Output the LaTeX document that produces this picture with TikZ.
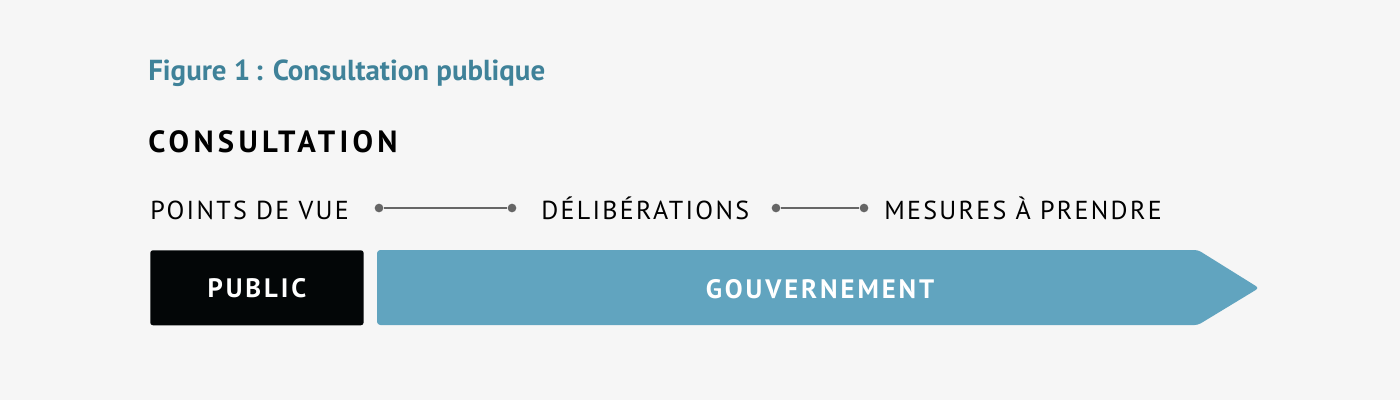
\documentclass[tikz,border=0pt]{standalone}
\usepackage{fontspec}
\setmainfont{PT Sans}
\usetikzlibrary{positioning}

\definecolor{pagebg}{HTML}{F6F6F6}
\definecolor{titleteal}{HTML}{3F8299}
\definecolor{govblue}{HTML}{61A4BF}
\definecolor{publicblack}{HTML}{030607}
\definecolor{linkgray}{HTML}{666666}

\tikzset{
  stage/.style={anchor=base west, inner sep=0pt,
    font=\fontsize{19.5pt}{22pt}\selectfont\addfontfeature{LetterSpace=8.8}},
  dot/.style={circle, fill=linkgray, inner sep=0pt, minimum size=6.5pt},
  link/.style={draw=linkgray, line width=1.3pt},
  boxlabel/.style={text=white,
    font=\fontsize{20pt}{22pt}\selectfont\bfseries\addfontfeature{LetterSpace=11}}
}

\begin{document}
\begin{tikzpicture}[x=0.75pt, y=-0.75pt]

  % background
  \fill[pagebg] (0,0) rectangle (1400,400);
  \useasboundingbox (0,0) rectangle (1400,400);

  % headings
  \node[anchor=base west, inner sep=0pt, text=titleteal,
    font=\fontsize{21.7pt}{24pt}\selectfont\bfseries] (title) at (148,80) {Figure 1\,: Consultation publique};
  \node[anchor=base west, inner sep=0pt,
    font=\fontsize{23pt}{26pt}\selectfont\bfseries\addfontfeature{LetterSpace=14}] (consult) at (148,152) {CONSULTATION};

  % stages
  \node[stage] (views) at (150,219) {POINTS DE VUE};
  \node[stage] (delib) at (541,219) {DÉLIBÉRATIONS};
  \node[stage] (measures) at (884,219) {MESURES À PRENDRE};

  % links
  \node[dot] (d1) at (379,208) {};
  \node[dot] (d2) at (512,208) {};
  \node[dot] (d3) at (776,208) {};
  \node[dot] (d4) at (864,208) {};
  \draw[link] (d1) to (d2);
  \draw[link] (d3) to (d4);

  % bars
  \node[fill=publicblack, rounded corners=2pt, minimum width=160pt, minimum height=56.25pt,
    inner sep=0pt, anchor=north west, boxlabel] (public) at (150,250) {PUBLIC};
  \fill[govblue, rounded corners=2.5pt] (377,250) -- (1198,250) -- (1259,288) -- (1198,325)
    -- (377,325) -- cycle;
  \node[boxlabel] (gov) at (820,289) {GOUVERNEMENT};

\end{tikzpicture}
\end{document}
